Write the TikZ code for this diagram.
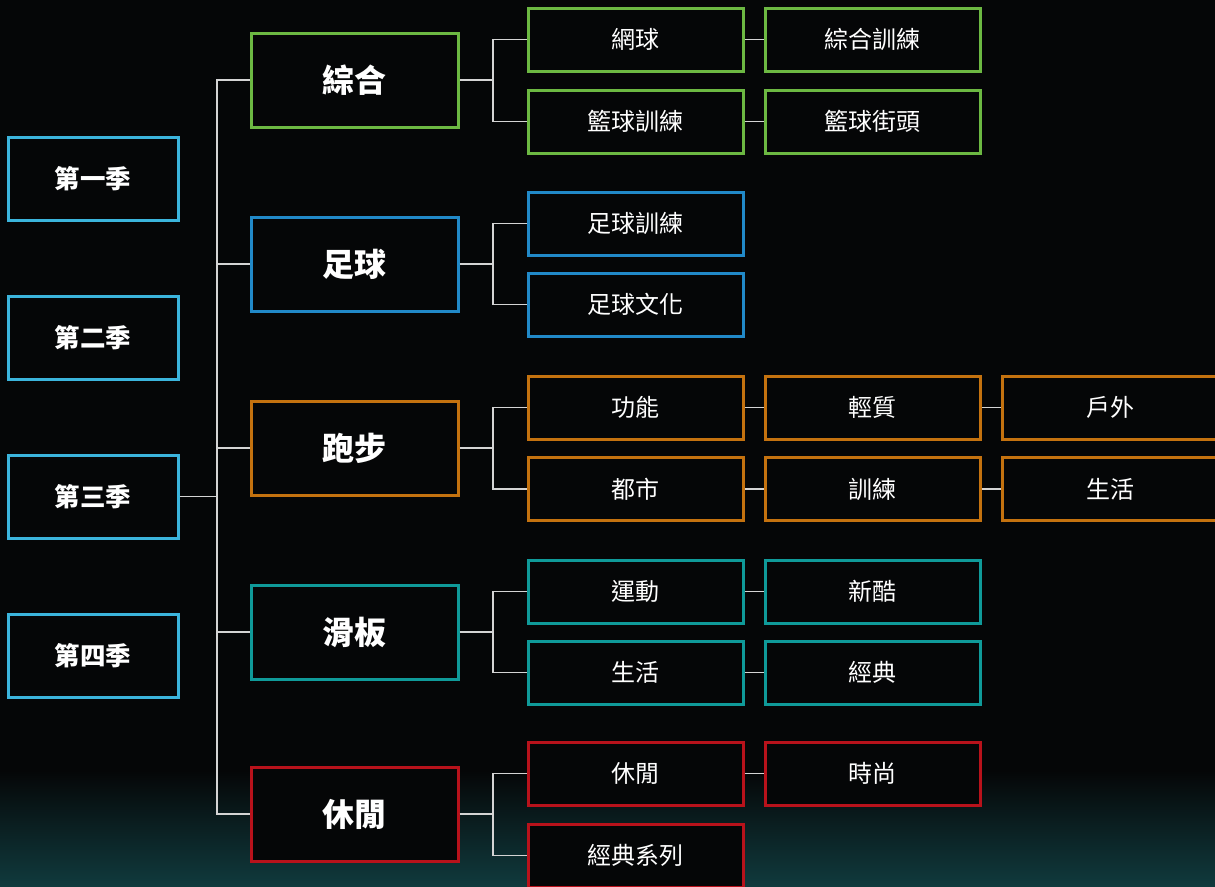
\documentclass[tikz,border=0pt]{standalone}
\usepackage{fontspec}
\setmainfont{Noto Sans CJK TC}
\definecolor{bgc}{HTML}{050607}
\definecolor{glow}{HTML}{103A3D}
\definecolor{cseason}{HTML}{3BB4DC}
\definecolor{cgreen}{HTML}{6CB842}
\definecolor{cblue}{HTML}{2189C8}
\definecolor{corange}{HTML}{C4720F}
\definecolor{cteal}{HTML}{0F9A99}
\definecolor{cred}{HTML}{B8121B}
\definecolor{cline}{HTML}{D4D4D4}
\tikzset{
  box/.style={draw=#1, line width=3pt, fill=bgc, inner sep=0pt, text=white},
  season/.style={box=cseason, minimum width=170pt, minimum height=83pt, font=\bfseries\fontsize{25.5}{28}\selectfont},
  cat/.style={box=#1, minimum width=207pt, minimum height=94pt, font=\bfseries\fontsize{32}{36}\selectfont},
  leaf/.style={box=#1, minimum width=215pt, minimum height=63pt, font=\fontsize{24}{28}\selectfont},
  conn/.style={draw=cline, line width=1.4pt},
}
\begin{document}
\begin{tikzpicture}[x=1pt,y=-1pt]
\useasboundingbox (0,0) rectangle (1215,886);
\fill[bgc] (0,0) rectangle (1215,886);
\shade[top color=bgc, bottom color=glow] (0,770) rectangle (1215,886);
% seasons
\node[season] (s1) at (93,178.5) {第一季};
\node[season] (s2) at (93,337.5) {第二季};
\node[season] (s3) at (93,496.5) {第三季};
\node[season] (s4) at (93,655.5) {第四季};
% categories
\node[cat=cgreen]  (c1) at (354.5,80)  {綜合};
\node[cat=cblue]   (c2) at (354.5,264) {足球};
\node[cat=corange] (c3) at (354.5,448) {跑步};
\node[cat=cteal]   (c4) at (354.5,632) {滑板};
\node[cat=cred]    (c5) at (354.5,814) {休閒};
% leaves
\node[leaf=cgreen] (a1) at (635.5,39.5) {網球};
\node[leaf=cgreen] (a2) at (872.5,39.5) {綜合訓練};
\node[leaf=cgreen] (b1) at (635.5,121.5) {籃球訓練};
\node[leaf=cgreen] (b2) at (872.5,121.5) {籃球街頭};
\node[leaf=cblue] (d1) at (635.5,223.5) {足球訓練};
\node[leaf=cblue] (e1) at (635.5,304.5) {足球文化};
\node[leaf=corange] (f1) at (635.5,407.5) {功能};
\node[leaf=corange] (f2) at (872.5,407.5) {輕質};
\node[leaf=corange] (f3) at (1110,407.5) {戶外};
\node[leaf=corange] (g1) at (635.5,489) {都市};
\node[leaf=corange] (g2) at (872.5,489) {訓練};
\node[leaf=corange] (g3) at (1110,489) {生活};
\node[leaf=cteal] (h1) at (635.5,591.5) {運動};
\node[leaf=cteal] (h2) at (872.5,591.5) {新酷};
\node[leaf=cteal] (i1) at (635.5,672.5) {生活};
\node[leaf=cteal] (i2) at (872.5,672.5) {經典};
\node[leaf=cred] (j1) at (635.5,773.5) {休閒};
\node[leaf=cred] (j2) at (872.5,773.5) {時尚};
\node[leaf=cred] (k1) at (635.5,855.5) {經典系列};
% trunk
\coordinate (tr) at (217,0);
\coordinate (br) at (493,0);
\path[conn] (s3.east) -- (s3.east -| tr);
\path[conn] (c1.west) -- (c1.west -| tr) -- (c5.west -| tr) -- (c5.west);
\foreach \c in {c2,c3,c4} \path[conn] (\c.west) -- (\c.west -| tr);
% branches
\foreach \c/\u/\l in {c1/a1/b1, c2/d1/e1, c3/f1/g1, c4/h1/i1, c5/j1/k1} {
  \path[conn] (\c.east) -- (\c.east -| br);
  \path[conn] (\u.west) -- (\u.west -| br) -- (\l.west -| br) -- (\l.west);
}
% chains
\foreach \p/\q in {a1/a2, b1/b2, f1/f2, f2/f3, g1/g2, g2/g3, h1/h2, i1/i2, j1/j2}
  \path[conn] (\p.east) -- (\q.west);
\end{tikzpicture}
\end{document}
